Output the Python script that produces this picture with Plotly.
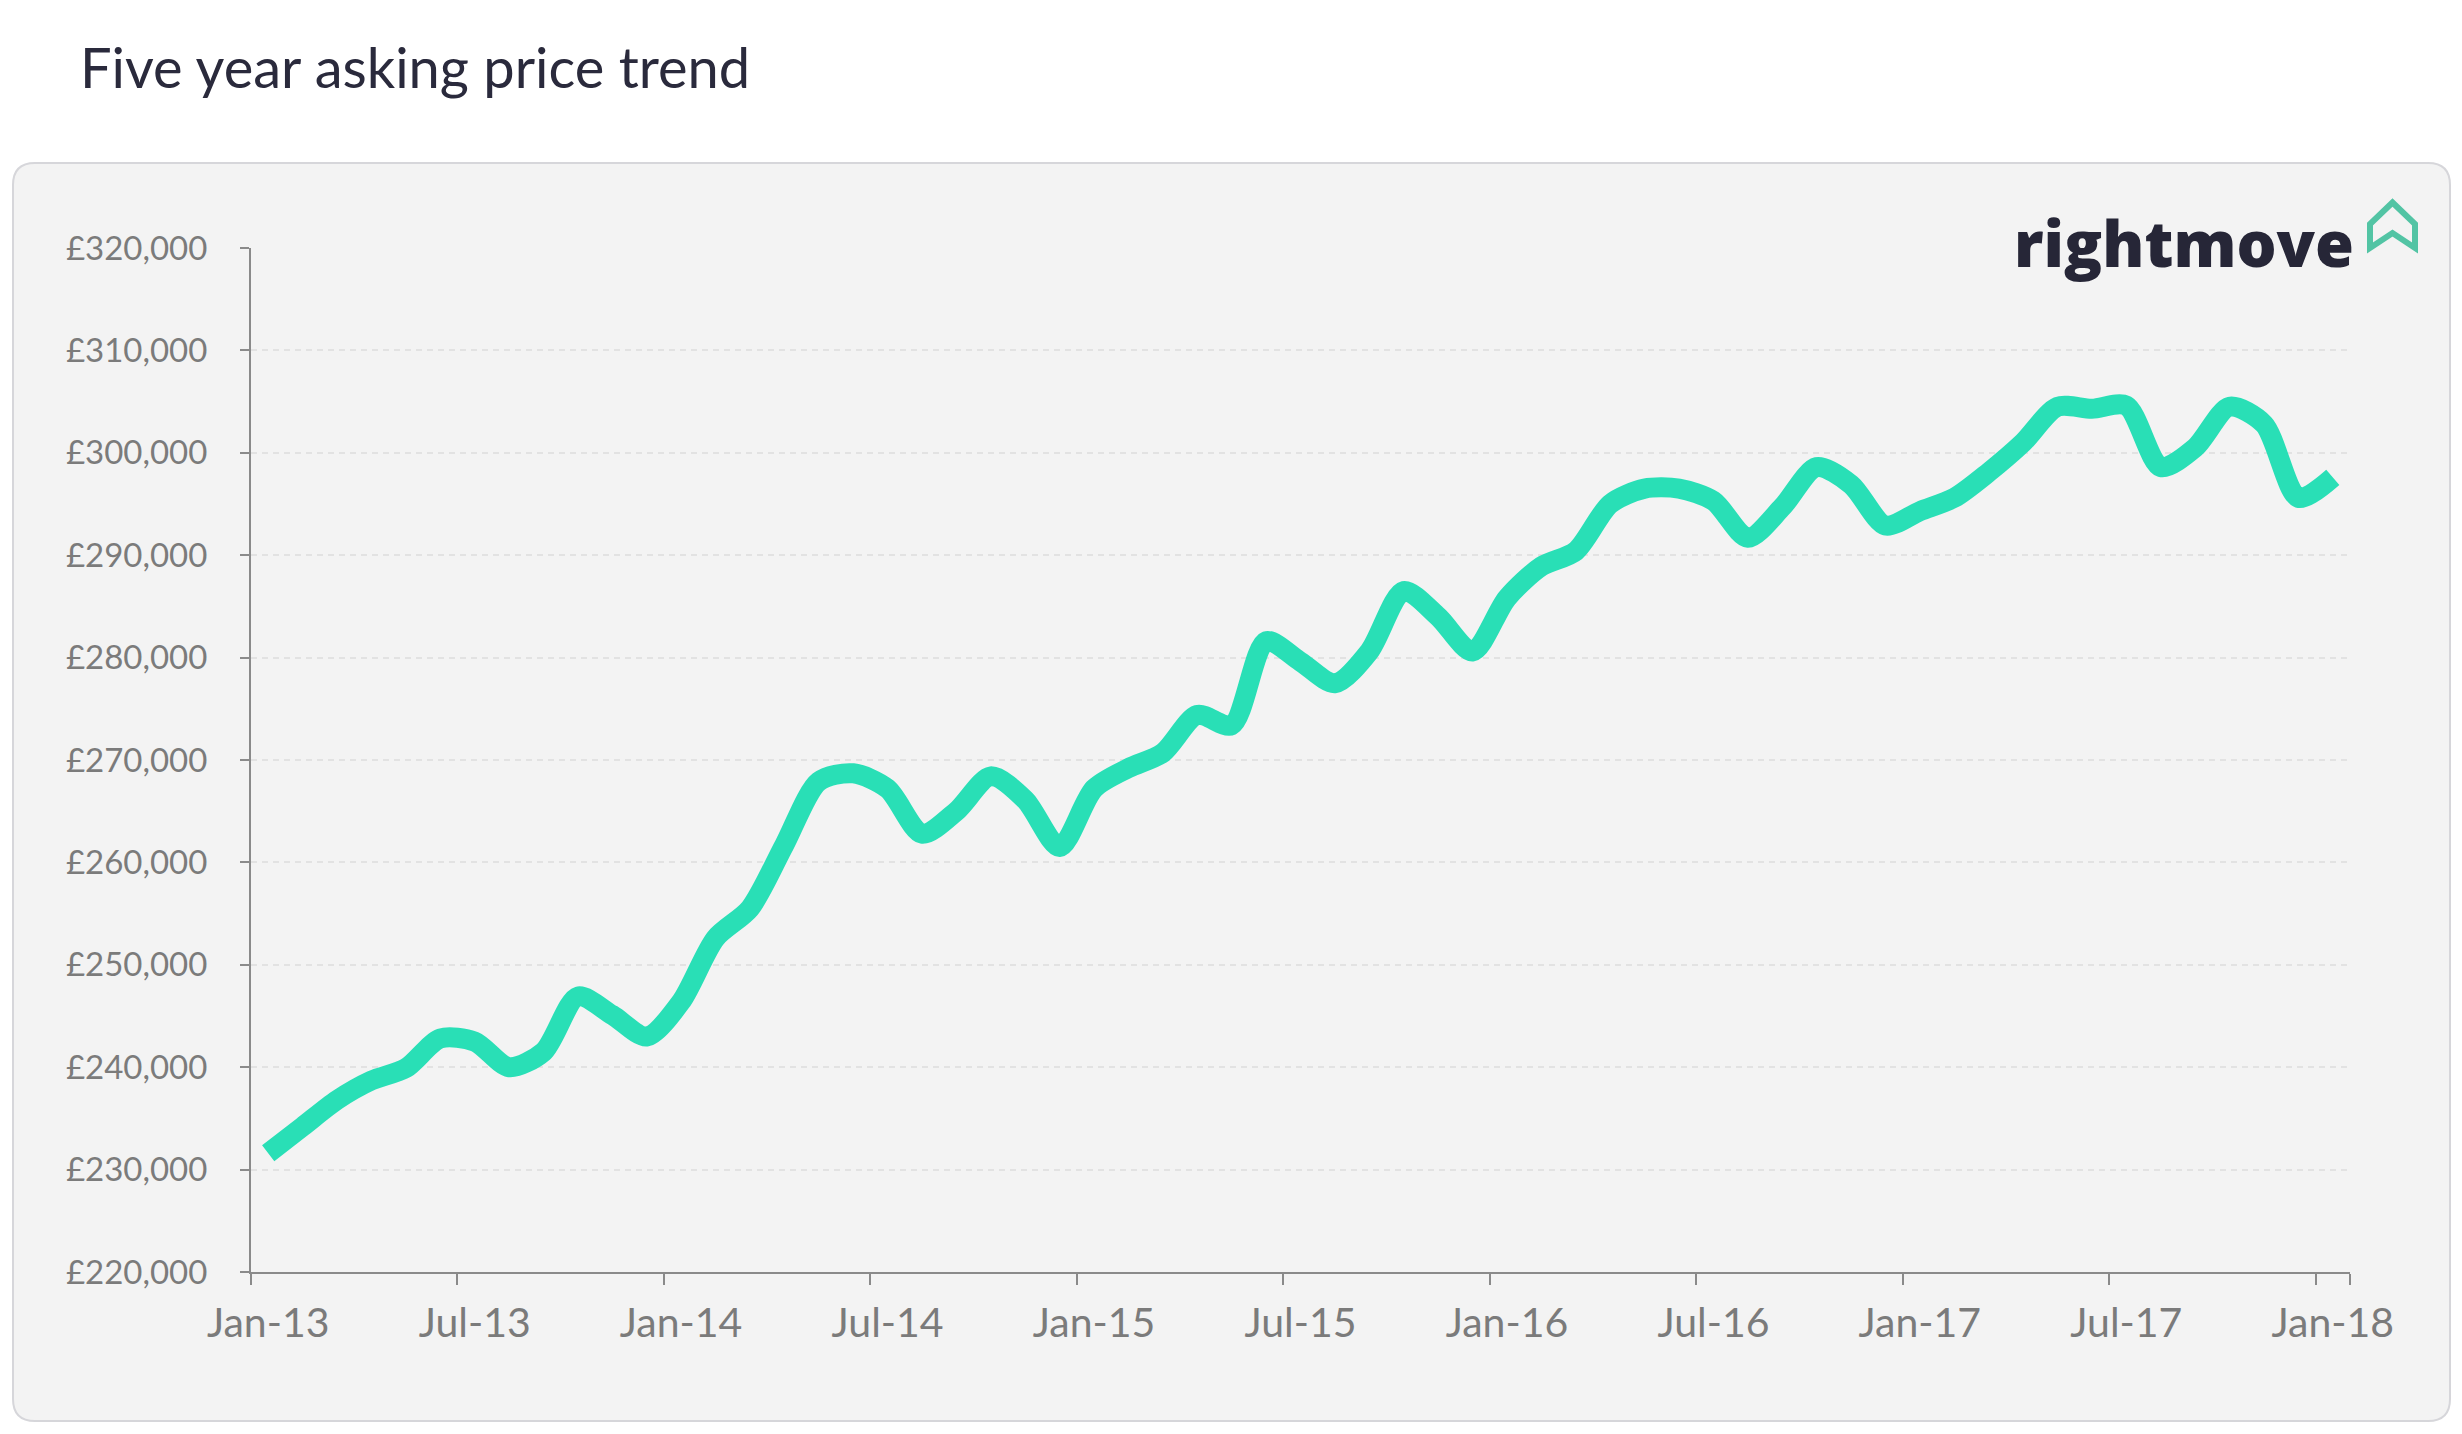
import pandas as pd
import plotly.graph_objects as go

# ---- data ----
months = list(pd.date_range("2013-01-01", periods=61, freq="MS").strftime("%b-%y"))
asking_price = [
    231600, 234200, 236800, 238700, 239900, 242800, 242500, 240000, 241500, 246900,
    245100, 243000, 246400, 252600, 255500, 261700, 267900, 268700, 267200, 262800,
    265000, 268400, 266100, 261500, 267200, 269200, 270700, 274400, 273400, 281600,
    279600, 277500, 280600, 286500, 284000, 280600, 285800, 288900, 290400, 295000,
    296500, 296500, 295300, 291700, 294700, 298600, 296900, 292900, 294300, 295600,
    298100, 301000, 304500, 304300, 304600, 298600, 300500, 304500, 302800, 295600,
    297600,
]
x_tick_labels = ["Jan-13", "Jul-13", "Jan-14", "Jul-14", "Jan-15", "Jul-15",
                 "Jan-16", "Jul-16", "Jan-17", "Jul-17", "Jan-18"]
y_tick_values = [220000, 230000, 240000, 250000, 260000, 270000,
                 280000, 290000, 300000, 310000, 320000]
y_tick_text = ["£" + f"{v:,}" for v in y_tick_values]

# ---- geometry (screen pixels; the page body adds an 8px margin) ----
OFF = 8
WIDTH, HEIGHT = 2462 - 2 * OFF, 1434 - 2 * OFF
L, R, T, B = 251, 2350, 248, 1272          # plot area in screen pixels
PW, PH = R - L, B - T


def px(x):
    return (x - L) / PW


def py(y):
    return 1 - (y - T) / PH


def rounded_rect(x0, y0, x1, y1, r):
    return (
        f"M {px(x0 + r)},{py(y0)} L {px(x1 - r)},{py(y0)} "
        f"Q {px(x1)},{py(y0)} {px(x1)},{py(y0 + r)} "
        f"L {px(x1)},{py(y1 - r)} "
        f"Q {px(x1)},{py(y1)} {px(x1 - r)},{py(y1)} "
        f"L {px(x0 + r)},{py(y1)} "
        f"Q {px(x0)},{py(y1)} {px(x0)},{py(y1 - r)} "
        f"L {px(x0)},{py(y0 + r)} "
        f"Q {px(x0)},{py(y0)} {px(x0 + r)},{py(y0)} Z"
    )


def poly(points):
    return "M " + " L ".join(f"{px(a)},{py(b)}" for a, b in points) + " Z"


FONT = "Lato"
AXIS_GREY = "#8a8a8a"
LABEL_GREY = "#7b7b7b"

fig = go.Figure()
fig.add_trace(go.Scatter(
    x=months,
    y=asking_price,
    mode="lines",
    line=dict(color="#29dfb6", width=20, shape="spline", smoothing=0.8),
    hoverinfo="x+y",
))

shapes = [
    dict(type="path", xref="paper", yref="paper", layer="below",
         path=rounded_rect(13, 163, 2450, 1421, 22),
         fillcolor="#f3f3f3", line=dict(color="#d6d6da", width=2)),
    dict(type="path", xref="paper", yref="paper", layer="above",
         path=poly([(2370, 248), (2370, 224), (2392.5, 202.5),
                    (2415, 224), (2415, 248), (2392.5, 233)]),
         line=dict(color="#52c4a4", width=6)),
]

annotations = [
    dict(text="Five year asking price trend", xref="paper", yref="paper",
         x=px(78), y=py(66), xanchor="left", yanchor="middle", showarrow=False,
         font=dict(family=FONT, size=56, color="#2a2a3c")),
    dict(text="rightmove", xref="paper", yref="paper",
         x=px(2356), y=py(242), xanchor="right", yanchor="middle", showarrow=False,
         font=dict(family="Open Sans", size=63, weight=800, color="#262637")),
]

fig.update_layout(
    width=WIDTH, height=HEIGHT, autosize=False,
    margin=dict(l=L - OFF, r=WIDTH + OFF - R, t=T - OFF, b=HEIGHT + OFF - B, pad=0),
    paper_bgcolor="#ffffff",
    plot_bgcolor="rgba(0,0,0,0)",
    showlegend=False,
    shapes=shapes,
    annotations=annotations,
    xaxis=dict(
        type="category",
        range=[-0.5, len(months) - 0.5],
        tickmode="array",
        tickvals=x_tick_labels,
        ticktext=x_tick_labels,
        tickson="boundaries",
        tickangle=0,
        ticks="outside", ticklen=11, tickwidth=2, tickcolor=AXIS_GREY,
        showline=True, linecolor=AXIS_GREY, linewidth=2,
        showgrid=False, zeroline=False,
        ticklabelstandoff=14,
        tickfont=dict(family=FONT, size=41, color=LABEL_GREY),
        fixedrange=True,
    ),
    yaxis=dict(
        range=[220000, 320000],
        tickmode="array",
        tickvals=y_tick_values,
        ticktext=y_tick_text,
        ticks="outside", ticklen=9, tickwidth=2, tickcolor=AXIS_GREY,
        showline=True, linecolor=AXIS_GREY, linewidth=2,
        showgrid=True, gridcolor="#e2e2e2", gridwidth=1.5, griddash="6px,5px",
        zeroline=False,
        ticklabelstandoff=26,
        tickfont=dict(family=FONT, size=33, color=LABEL_GREY),
        fixedrange=True,
    ),
)

fig.write_html("out.html")
